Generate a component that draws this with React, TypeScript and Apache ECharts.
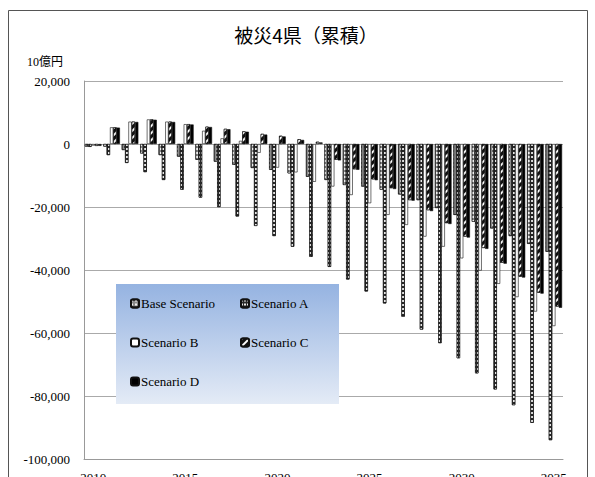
import React, { useEffect, useRef } from "react";
import * as echarts from "echarts";

const years = ["2010","2011","2012","2013","2014","2015","2016","2017","2018","2019","2020","2021","2022","2023","2024","2025","2026","2027","2028","2029","2030","2031","2032","2033","2034","2035"];
const baseScenario = [-800,-800,-1900,-3000,-3500,-4000,-5000,-5600,-6600,-7600,-8200,-9300,-10400,-11400,-13000,-13500,-14500,-16000,-17800,-20300,-22500,-24700,-26800,-29200,-31700,-34200];
const scenarioA = [-900,-3500,-6000,-8900,-11400,-14500,-17000,-20000,-23000,-26000,-29200,-32600,-35800,-39000,-43000,-46800,-50600,-54800,-58900,-63200,-68000,-72800,-77900,-82900,-88500,-94000];
const scenarioB = [-500,5300,7100,7800,7100,6300,4200,1800,1000,-2800,-7500,-9000,-12000,-13500,-16200,-18800,-22500,-25700,-29400,-32600,-36300,-40200,-44400,-48600,-53200,-57800];
const scenarioC = [-600,5300,7100,7800,7100,6300,5500,4800,4000,3200,2600,1500,700,-5000,-8000,-11200,-14000,-17800,-21000,-25100,-29400,-33000,-37700,-42100,-47200,-51600];
const scenarioD = [-600,5200,7000,7700,7000,6200,5400,4700,3900,3000,2400,1300,500,-5200,-8200,-11500,-14300,-18000,-21300,-25400,-29700,-33300,-38000,-42400,-47500,-52000];
const yTicks = { min: -100000, max: 20000, interval: 20000 };

const serif = "'Liberation Serif', 'Times New Roman', serif";

export default function App() {
  const ref = useRef<HTMLDivElement>(null);
  useEffect(() => {
    if (!ref.current) return;
    document.body.style.overflow = "hidden";
    const chart = echarts.init(ref.current, null, { renderer: "svg" });
    const border = { borderColor: "#111", borderWidth: 0.6 };
    const mk = (name: string, data: number[], style: any) => ({
      name,
      type: "bar",
      data,
      barGap: "0%",
      barCategoryGap: "10%",
      itemStyle: { ...border, ...style },
      emphasis: { disabled: true },
    });
    const legendText = { fontFamily: serif, fontSize: 13, color: "#000", padding: [0, 0, 0, -3] };
    chart.setOption({
      animation: false,
      backgroundColor: "#fff",
      textStyle: { fontFamily: serif },
      title: {
        text: "被災4県（累積）",
        left: 301,
        textAlign: "center",
        top: 20,
        textStyle: { fontFamily: "'Noto Sans CJK JP', sans-serif", fontSize: 19, fontWeight: "normal", color: "#000" },
      },
      grid: { left: 84, width: 479, top: 81, height: 378, containLabel: false },
      xAxis: {
        type: "category",
        data: years,
        axisLine: { onZero: false, lineStyle: { color: "#999" } },
        axisTick: { show: false },
        axisLabel: { interval: 4, margin: 12, color: "#000", fontFamily: serif, fontSize: 13 },
      },
      yAxis: {
        type: "value",
        min: yTicks.min,
        max: yTicks.max,
        interval: yTicks.interval,
        axisLine: { show: true, lineStyle: { color: "#999" } },
        axisTick: { show: false },
        splitLine: { lineStyle: { color: "#aaa" } },
        axisLabel: {
          margin: 14,
          color: "#000",
          fontFamily: serif,
          fontSize: 13,
          formatter: (v: number) => v.toLocaleString("en-US"),
        },
      },
      legend: [
        {
          data: ["Base Scenario", "Scenario B", "Scenario D"],
          orient: "vertical",
          left: 130,
          top: 297,
          padding: 0,
          itemWidth: 8,
          itemHeight: 8,
          itemGap: 26,
          textStyle: legendText,
          z: 20,
        },
        {
          data: ["Scenario A", "Scenario C"],
          orient: "vertical",
          left: 240,
          top: 297,
          padding: 0,
          itemWidth: 8,
          itemHeight: 8,
          itemGap: 26,
          textStyle: legendText,
          z: 20,
        },
      ],
      graphic: [
        {
          type: "rect",
          shape: { x: 8.5, y: 10.5, width: 579, height: 490 },
          style: { fill: "none", stroke: "#555", lineWidth: 1 },
          z: 0,
          silent: true,
        },
        {
          type: "rect",
          shape: { x: 116, y: 284, width: 223, height: 120 },
          style: {
            fill: new echarts.graphic.LinearGradient(0, 0, 0, 1, [
              { offset: 0, color: "#95b3e1" },
              { offset: 1, color: "#e4ebf6" },
            ]),
          },
          z: 10,
          silent: true,
        },
        {
          type: "text",
          left: 27,
          top: 56,
          style: { text: "10億円", font: "12px 'Liberation Serif', 'Noto Sans CJK JP', serif", fill: "#000" },
          z: 10,
        },
      ],
      series: [
        mk("Base Scenario", baseScenario, {
          color: "#8a8a8a",
          decal: { symbol: "rect", symbolSize: 1, color: "#f0f0f0", dashArrayX: [1.5, 1.5], dashArrayY: [1.5, 1.5], rotation: 0 },
        }),
        mk("Scenario A", scenarioA, {
          color: "#2a2a2a",
          decal: { symbol: "rect", symbolSize: 1, color: "#e8e8e8", dashArrayX: [1.5, 1], dashArrayY: [1.2, 1.5], rotation: 0 },
        }),
        mk("Scenario B", scenarioB, { color: "#ffffff" }),
        mk("Scenario C", scenarioC, {
          color: "#111",
          decal: { symbol: "rect", symbolSize: 1, color: "#ffffff", dashArrayX: [1, 0], dashArrayY: [1.2, 3], rotation: -Math.PI / 4 },
        }),
        mk("Scenario D", scenarioD, { color: "#000" }),
      ],
    });
    return () => chart.dispose();
  }, []);
  return <div ref={ref} style={{ position: "absolute", left: 0, top: 0, width: 595, height: 500 }} />;
}
